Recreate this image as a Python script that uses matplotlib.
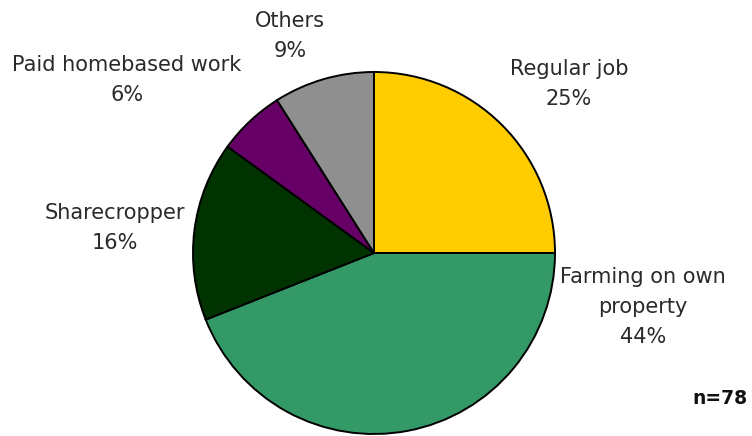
import matplotlib
matplotlib.use("Agg")
import matplotlib.pyplot as plt

categories = ["Regular job", "Farming on own\nproperty", "Sharecropper",
              "Paid homebased work", "Others"]
shares = [25, 44, 16, 6, 9]
sample_note = "n=78"

colors = ["#FFCC00", "#339966", "#003300", "#660066", "#8F8F8F"]

# label block centres in pie data units (radius = 1)
label_pos = [(1.077, 0.934), (1.486, -0.298), (-1.431, 0.138),
             (-1.365, 0.956), (-0.464, 1.199)]

W, H = 752, 436
cx, cy, r = 374, 253, 181

fig = plt.figure(figsize=(W / 100, H / 100), dpi=100)
ax = fig.add_axes([(cx - r) / W, (H - cy - r) / H, 2 * r / W, 2 * r / H])

ax.pie(
    shares,
    colors=colors,
    startangle=90,
    counterclock=False,
    radius=1,
    wedgeprops=dict(edgecolor="black", linewidth=1.4),
)
ax.set_xlim(-1, 1)
ax.set_ylim(-1, 1)
ax.set_aspect("equal")
ax.axis("off")

for lab, val, (x, y) in zip(categories, shares, label_pos):
    ax.text(x, y, f"{lab}\n{val}%", ha="center", va="center",
            fontsize=15, color="#2a2a2a", linespacing=1.6, clip_on=False)

fig.text(748 / W, 1 - 398 / H, sample_note, ha="right", va="center",
         fontsize=13.5, weight="bold", color="#111111")

fig.savefig("out.png", dpi=100)
